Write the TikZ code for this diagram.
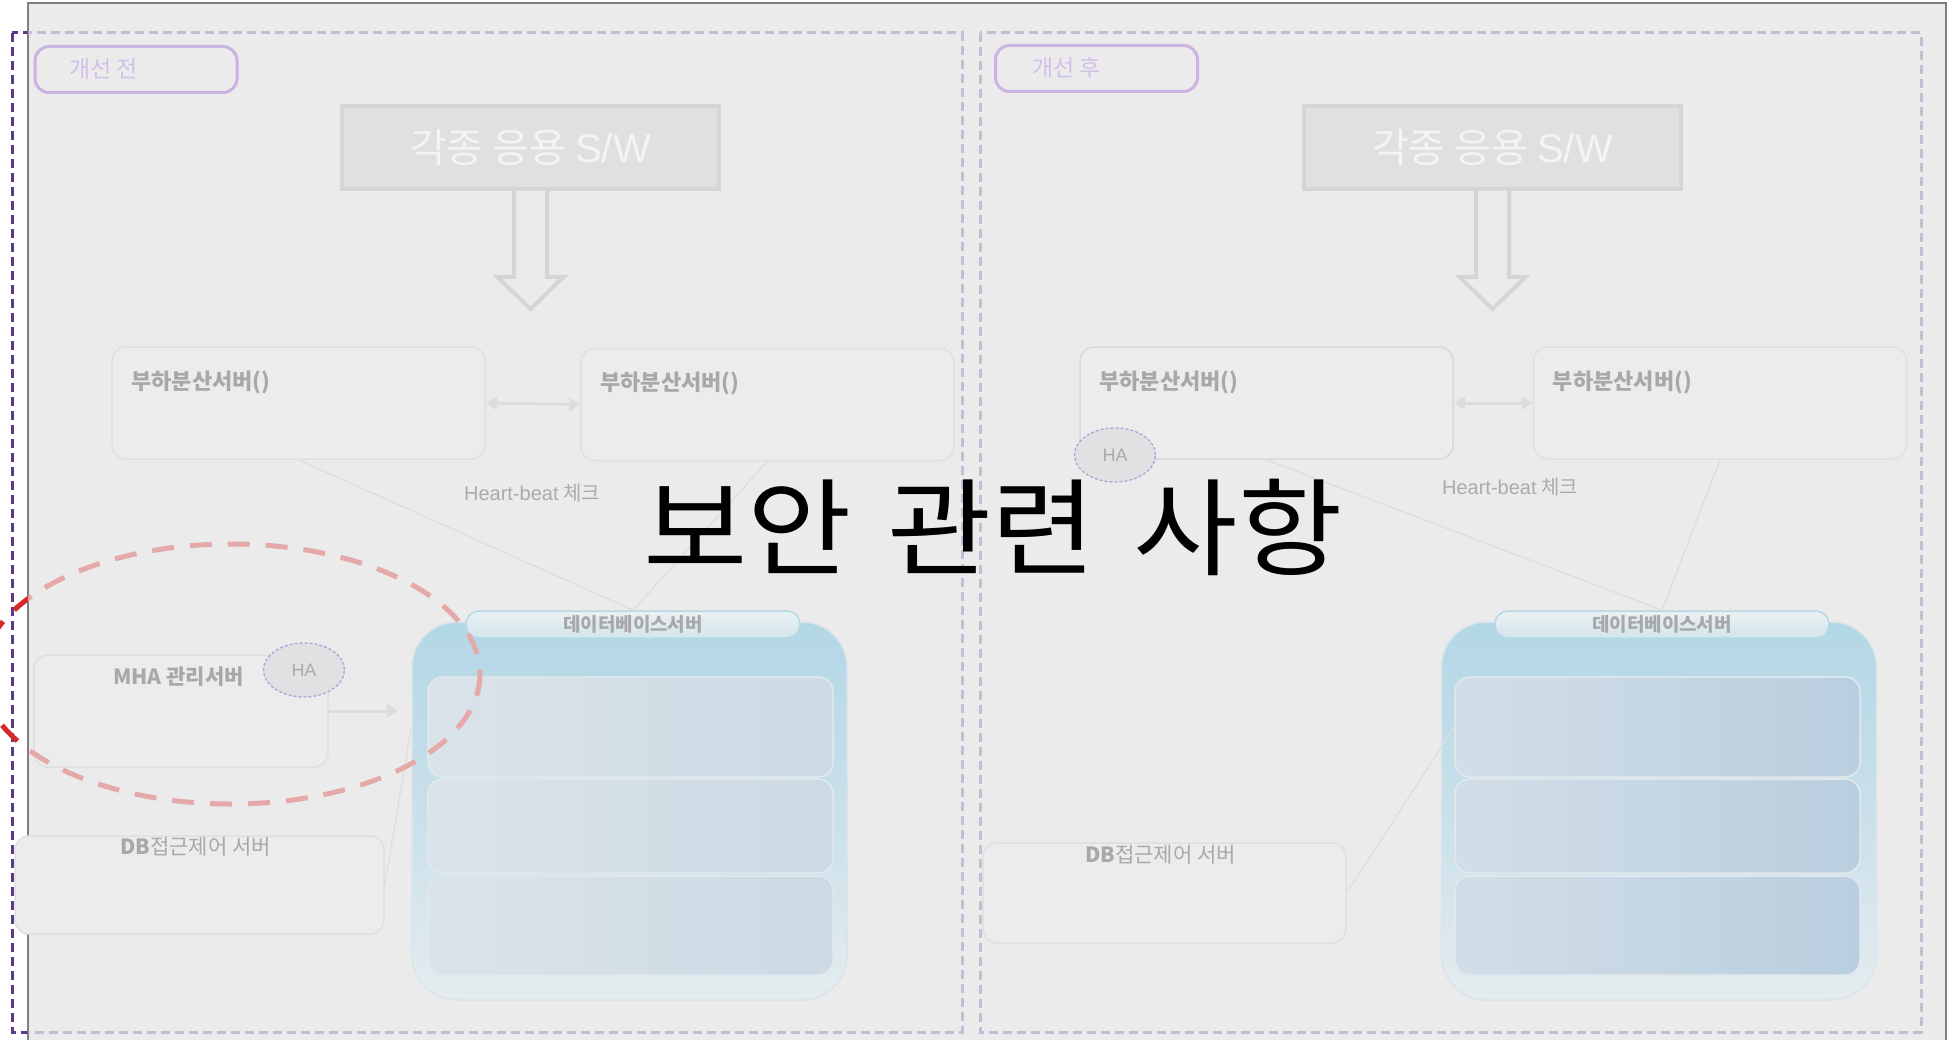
\documentclass[tikz,border=0pt]{standalone}
\usepackage{fontspec}
\setmainfont{Noto Sans CJK KR}
\newfontfamily\lib{Liberation Sans}
\newfontfamily\titlefont[FakeStretch=1.07]{Noto Sans CJK KR}
\usetikzlibrary{arrows.meta,calc,shapes.geometric}

\definecolor{frameBg}{HTML}{EBEBEB}
\definecolor{frameLine}{HTML}{7F7F7F}
\definecolor{lavDash}{HTML}{C6BCD4}
\definecolor{darkPurple}{HTML}{5B3A8E}
\definecolor{labelLine}{HTML}{CBB3E4}
\definecolor{labelText}{HTML}{D2C0EA}
\definecolor{appFill}{HTML}{E0E0E0}
\definecolor{appLine}{HTML}{D5D5D5}
\definecolor{appText}{HTML}{F4F4F4}
\definecolor{boxLine}{HTML}{E0E0E0}
\definecolor{boxLineB}{HTML}{D8D8D8}
\definecolor{boxFill}{HTML}{ECECEC}
\definecolor{grayText}{HTML}{A8A8A8}
\definecolor{lightText}{HTML}{ABABAB}
\definecolor{connLine}{HTML}{DCDCDC}
\definecolor{thinLine}{HTML}{DDDDDD}
\definecolor{haFill}{HTML}{E1E1E3}
\definecolor{haLine}{HTML}{A9A9D8}
\definecolor{dbTop}{HTML}{B3D7E6}
\definecolor{dbMid}{HTML}{C9E0EA}
\definecolor{dbBot}{HTML}{E5ECEF}
\definecolor{dbLine}{HTML}{DAE4E9}
\definecolor{hdTop}{HTML}{EAF1F3}
\definecolor{hdBot}{HTML}{D3E5EC}
\definecolor{hdLine}{HTML}{B5D8E5}
\definecolor{pnlA}{HTML}{DAE3E9}
\definecolor{pnlB}{HTML}{CCDAE4}
\definecolor{pnlC}{HTML}{D2DEE7}
\definecolor{pnlD}{HTML}{B9CEDF}
\definecolor{pnlLine}{HTML}{E1E9EE}
\definecolor{redFaint}{HTML}{E6A9A9}
\definecolor{redStrong}{HTML}{D42A2A}

\begin{document}
\begin{tikzpicture}[x=1pt,y=-1pt,
  panelframe/.style={draw=lavDash, line width=3pt, dash pattern=on 9pt off 5pt},
  panelframeDark/.style={draw=darkPurple, line width=3pt, dash pattern=on 9pt off 5pt},
  tagbox/.style={draw=labelLine, line width=3pt, rounded corners=14pt, fill=frameBg, inner sep=0pt, minimum width=202pt, minimum height=46pt},
  tagtext/.style={text=labelText, font=\fontsize{23}{26}\selectfont, inner sep=0pt, anchor=west},
  appbox/.style={draw=appLine, line width=4pt, fill=appFill, minimum width=377pt, minimum height=83pt, inner sep=0pt, text=appText, font=\fontsize{40}{44}\selectfont},
  hollow/.style={draw=appLine, line width=4pt, fill=frameBg, line join=miter},
  lbbox/.style={draw=boxLine, line width=1.5pt, fill=boxFill, rounded corners=14pt, minimum width=373pt, minimum height=112pt, inner sep=0pt},
  boxtitle/.style={text=grayText, font=\bfseries\fontsize{22}{24}\selectfont, inner sep=0pt},
  dblarrow/.style={draw=connLine, line width=3pt, {Triangle[length=11pt,width=13pt]}-{Triangle[length=11pt,width=13pt]}},
  onearrow/.style={draw=connLine, line width=3pt, -{Triangle[length=11pt,width=13pt]}},
  thinline/.style={draw=thinLine, line width=1.2pt},
  hbtext/.style={text=lightText, font=\fontsize{20}{22}\selectfont, inner sep=0pt},
  haell/.style={ellipse, draw=haLine, line width=1.3pt, dash pattern=on 3pt off 2pt, fill=haFill, minimum width=81pt, minimum height=54pt, inner sep=0pt, text=lightText, font=\lib\fontsize{18}{20}\selectfont},
  dbcont/.style={draw=dbLine, line width=1.5pt, rounded corners=45pt, top color=dbTop, bottom color=dbBot, middle color=dbMid, minimum width=435pt, minimum height=378pt, inner sep=0pt},
  dbhead/.style={draw=hdLine, line width=1.5pt, rounded corners=13pt, top color=hdTop, bottom color=hdBot, minimum width=334pt, minimum height=27pt, inner sep=0pt, text=grayText, font=\bfseries\fontsize{19}{21}\selectfont},
  pnlL/.style={draw=pnlLine, line width=1.5pt, rounded corners=15pt, left color=pnlA, right color=pnlB, minimum width=405pt, inner sep=0pt},
  pnlR/.style={draw=pnlLine, line width=1.5pt, rounded corners=15pt, left color=pnlC, right color=pnlD, minimum width=405pt, inner sep=0pt},
  accbox/.style={draw=boxLine, line width=1.5pt, fill=boxFill, rounded corners=14pt, inner sep=0pt},
  acctext/.style={text=grayText, font=\fontsize{21}{23}\selectfont, inner sep=0pt}
]
\useasboundingbox (0,0) rectangle (1953,1040);
\fill[white] (0,0) rectangle (1953,1040);
% frame
\draw[frameLine, line width=2pt, fill=frameBg] (28,3) rectangle (1946,1046);

% panel frames
\begin{scope}
  \clip (28,0) rectangle (1953,1040);
  \draw[panelframe] (12,33) rectangle (962,1032);
\end{scope}
\begin{scope}
  \clip (0,0) rectangle (28,1040);
  \draw[panelframeDark] (12,33) rectangle (962,1032);
\end{scope}
\draw[panelframe] (980,33) rectangle (1921,1032);

% tags
\node[tagbox] (tagL) at (136,69.5) {};
\node[tagtext] (tagLt) at (69,69) {개선 전};
\node[tagbox] (tagR) at (1096.5,68.5) {};
\node[tagtext] (tagRt) at (1032,68) {개선 후};

% app boxes and hollow arrows
\node[appbox] (appL) at (530.5,148) {각종 응용 {\lib S/W}};
\node[appbox] (appR) at (1492.5,148) {각종 응용 {\lib S/W}};
\draw[hollow] (514,191) -- (514,277) -- (497.5,277) -- (530.5,309) -- (563.5,277) -- (547,277) -- (547,191);
\draw[hollow] (1476,191) -- (1476,277) -- (1459.5,277) -- (1492.5,309) -- (1525.5,277) -- (1509,277) -- (1509,191);

% load balancer boxes
\node[lbbox] (lbL1) at (298.5,403) {};
\node[lbbox] (lbL2) at (767.5,404.5) {};
\node[lbbox, draw=boxLineB] (lbR1) at (1266.5,403) {};
\node[lbbox] (lbR2) at (1720,403) {};
\node[boxtitle, anchor=west] (lbL1t) at ($(lbL1.north west)+(20,36)$) {부하분산서버()};
\node[boxtitle, anchor=west] (lbL2t) at ($(lbL2.north west)+(20,36)$) {부하분산서버()};
\node[boxtitle, anchor=west] (lbR1t) at ($(lbR1.north west)+(20,36)$) {부하분산서버()};
\node[boxtitle, anchor=west] (lbR2t) at ($(lbR2.north west)+(20,36)$) {부하분산서버()};
\draw[dblarrow] (lbL1.east) -- (lbL2.west);
\draw[dblarrow] (lbR1.east) -- (lbR2.west);

\node[hbtext] (hbL) at (532,493) {{\lib Heart-beat} 체크};
\node[hbtext] (hbR) at (1510,487) {{\lib Heart-beat} 체크};

% MHA
\node[lbbox, minimum width=294pt, minimum height=112pt] (mha) at (181,711) {};
\node[boxtitle, font=\bfseries\fontsize{21}{23}\selectfont] (mhat) at ($(mha.north)+(-2.5,22)$) {MHA 관리서버};
\node[haell] (haL) at (304,670) {HA};
\coordinate (mhaEnd) at (398,711);
\draw[onearrow] (mha.east) -- (mhaEnd);

% DB access control servers
\node[accbox, minimum width=369pt, minimum height=98pt] (accL) at (199.5,885) {};
\node[acctext] (accLt) at ($(accL.north)+(-4,11)$) {{\bfseries DB}접근제어 서버};
\node[accbox, minimum width=363pt, minimum height=100pt] (accR) at (1164.5,893) {};
\node[acctext] (accRt) at ($(accR.north)+(-4,12)$) {{\bfseries DB}접근제어 서버};

% DB servers
\node[dbcont] (dbL) at (629.5,811) {};
\node[pnlL, minimum height=100pt] (pL1) at (630.5,727) {};
\node[pnlL, minimum height=94pt] (pL2) at (630.5,826) {};
\node[pnlL, minimum height=99pt] (pL3) at (630.5,925.5) {};
\node[dbhead] (hdL) at (633,624.5) {데이터베이스서버};

\node[dbcont] (dbR) at (1659,811) {};
\node[pnlR, minimum height=100pt] (pR1) at (1657.5,727) {};
\node[pnlR, minimum height=94pt] (pR2) at (1657.5,826) {};
\node[pnlR, minimum height=99pt] (pR3) at (1657.5,925.5) {};
\node[dbhead] (hdR) at (1662,624.5) {데이터베이스서버};

% thin connectors
\draw[thinline] (lbL1.south) -- (hdL.north);
\draw[thinline] (lbL2.south) -- (hdL.north);
\draw[thinline] (lbR1.south) -- (hdR.north);
\draw[thinline] (lbR2.south) -- (hdR.north);
\draw[thinline] (accL.east) -- (dbL.west |- pL1.west);
\draw[thinline] (accR.east) -- (pR1.west);

\node[haell] (haR) at (1115,455) {HA};

% red dashed ellipse
\begin{scope}
  \clip (28,0) rectangle (1953,1040);
  \draw[redFaint, line width=5pt, dash pattern=on 22pt off 16pt] (231,674) ellipse [x radius=249, y radius=130];
\end{scope}
\begin{scope}
  \clip (-40,0) rectangle (28,1040);
  \draw[redStrong, line width=5pt, dash pattern=on 22pt off 16pt] (231,674) ellipse [x radius=249, y radius=130];
\end{scope}

% title
\node[text=black, font=\titlefont\fontsize{106}{112}\selectfont, inner sep=0pt] (title) at (993,527) {보안\hspace{10pt} 관련\hspace{12pt} 사항};
\end{tikzpicture}
\end{document}
